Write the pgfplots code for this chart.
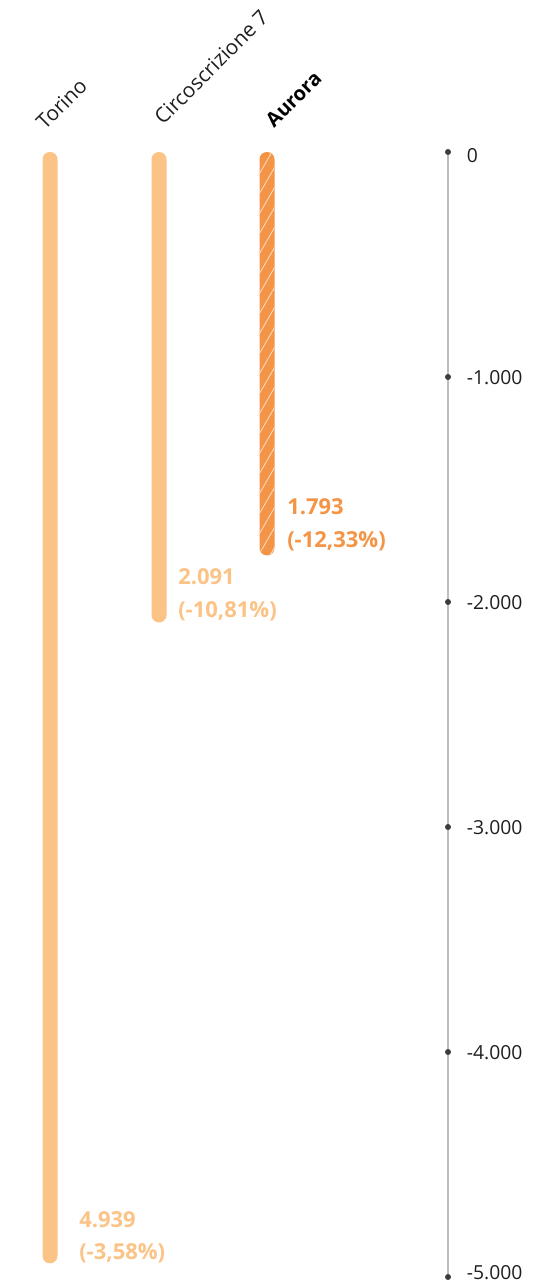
\documentclass[border=0pt]{standalone}
\usepackage{pgfplots}
\pgfplotsset{compat=1.18}
\usepackage{fontspec}
\setmainfont{Open Sans}
\usetikzlibrary{patterns.meta}

\definecolor{lightor}{HTML}{FBC386}
\definecolor{darkor}{HTML}{F39447}
\definecolor{axgray}{HTML}{BDBDBD}
\definecolor{dotgray}{HTML}{3C3C3C}
\definecolor{txt}{HTML}{1E1E1E}

\begin{document}
\begin{tikzpicture}
\begin{axis}[
    width=412.5pt, height=962.25pt, scale only axis,
    xmin=0, xmax=550, ymin=-5026.67, ymax=675.56,
    hide axis, clip=false,
    ticklab/.style={point meta=explicit symbolic, nodes near coords,
      every node near coord/.style={anchor=west, xshift=14pt, yshift=#1, inner sep=0pt,
        font=\fontsize{14.5}{17}\selectfont, text=txt}}]

  % axis line and tick dots
  \addplot[axgray, line width=1.4pt] coordinates {(448,0) (448,-5000)};
  \addplot[only marks, mark=*, mark size=2pt, color=dotgray, ticklab=-3pt]
    coordinates {(448,0)[0]};
  \addplot[only marks, mark=*, mark size=2pt, color=dotgray, ticklab=-0.5pt]
    coordinates {(448,-1000)[-1.000] (448,-2000)[-2.000]
                 (448,-3000)[-3.000] (448,-4000)[-4.000]};
  \addplot[only marks, mark=*, mark size=2pt, color=dotgray, ticklab=3pt]
    coordinates {(448,-5000)[-5.000]};

  % bars (x in px, value)
  \addplot[fill=lightor, draw=none, rounded corners=5.5pt]
    coordinates {(42.5,0) (57.5,0) (57.5,-4939) (42.5,-4939)} --cycle;
  \addplot[fill=lightor, draw=none, rounded corners=5.5pt]
    coordinates {(151.5,0) (166.5,0) (166.5,-2091) (151.5,-2091)} --cycle;
  \addplot[fill=darkor, draw=none, rounded corners=5.5pt]
    coordinates {(259.5,0) (274.5,0) (274.5,-1793) (259.5,-1793)} --cycle;
  \addplot[draw=none, rounded corners=5.5pt,
      pattern={Lines[angle=60, distance=7.5pt, line width=0.6pt]},
      pattern color=white!70!darkor]
    coordinates {(259.5,0) (274.5,0) (274.5,-1793) (259.5,-1793)} --cycle;

  % value labels
  \begin{scope}[every node/.style={anchor=base west, inner sep=0pt,
      font=\fontsize{16.5}{19}\bfseries}]
    \node[text=lightor] at (axis cs:79,-4778) {4.939};
    \node[text=lightor] at (axis cs:79,-4924) {(-3,58\%)};
    \node[text=lightor] at (axis cs:178,-1924) {2.091};
    \node[text=lightor] at (axis cs:178,-2067) {(-10,81\%)};
    \node[text=darkor] at (axis cs:287,-1613) {1.793};
    \node[text=darkor] at (axis cs:287,-1756) {(-12,33\%)};
  \end{scope}

  % category labels
  \begin{scope}[every node/.style={anchor=base west, inner sep=0pt, rotate=45,
      font=\fontsize{15.5}{18}\selectfont}]
    \node[text=txt] at (axis cs:45,93) {Torino};
    \node[text=txt] at (axis cs:163,116) {Circoscrizione 7};
    \node[text=black, font=\fontsize{15}{18}\selectfont\bfseries] at (axis cs:274,103) {Aurora};
  \end{scope}
\end{axis}
\pgfresetboundingbox
\path (0,0) rectangle (412.5pt,962.25pt);
\end{tikzpicture}
\end{document}
